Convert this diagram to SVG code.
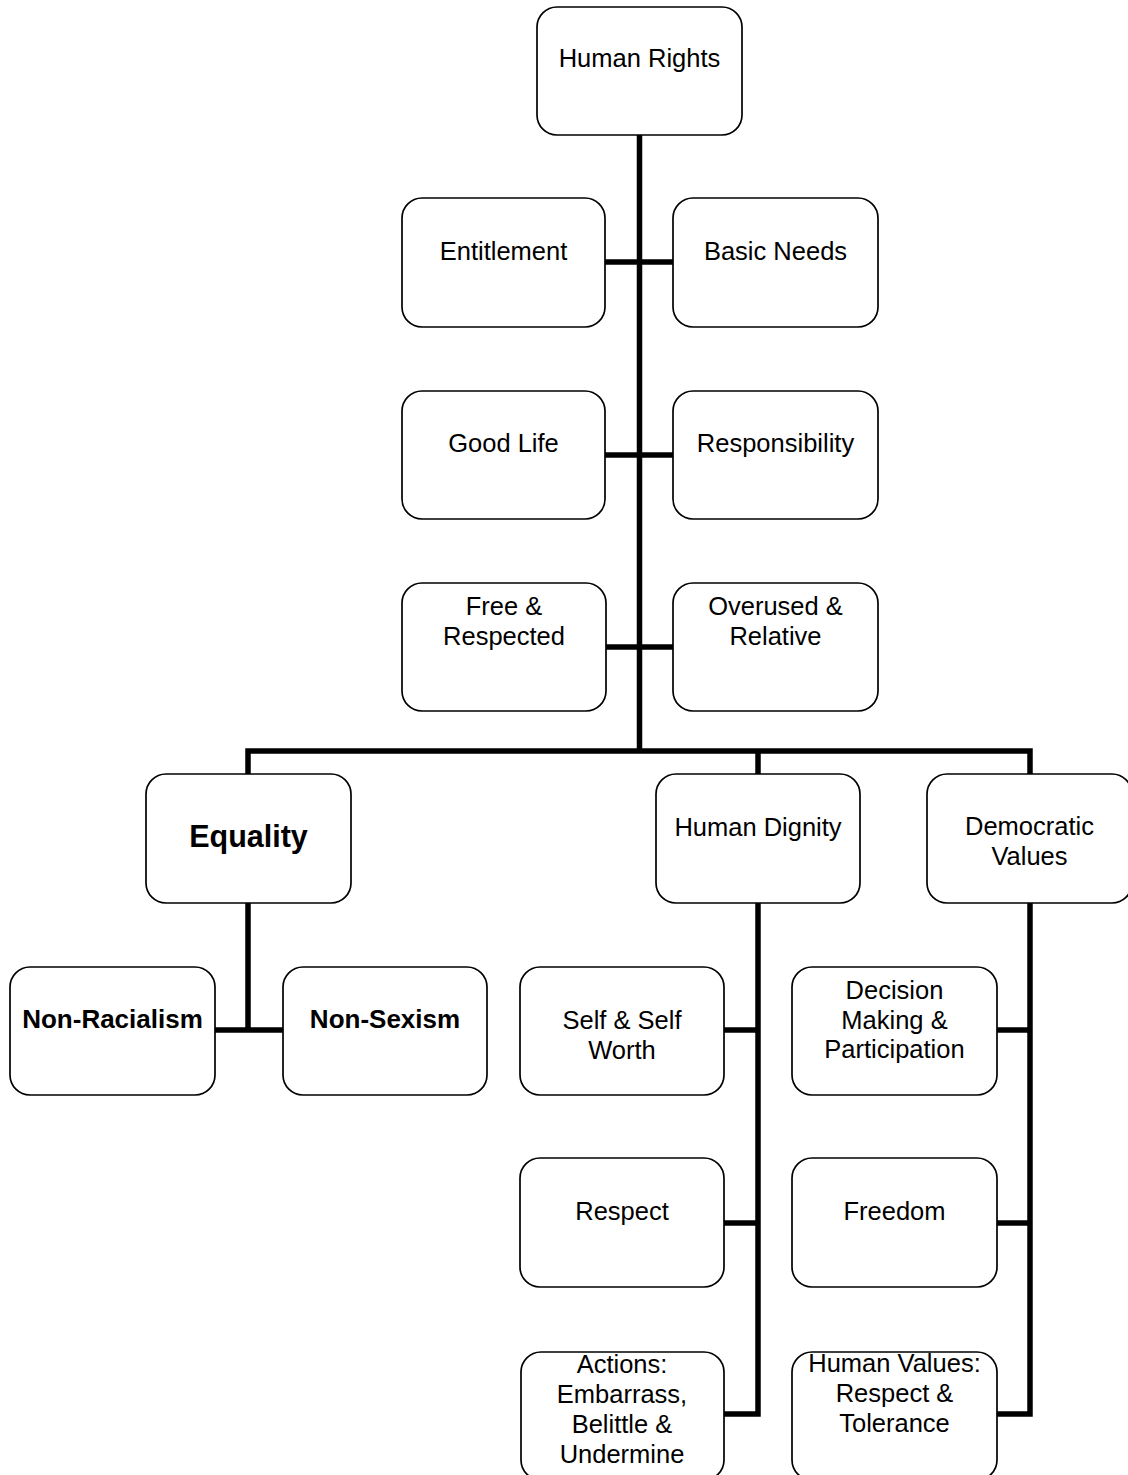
<svg xmlns="http://www.w3.org/2000/svg" width="1128" height="1475" viewBox="0 0 1128 1475">
  <style>
    .box { fill: #ffffff; stroke: #000000; stroke-width: 1.7; }
    .lbl { font-family: "Liberation Sans", Arial, sans-serif; font-size: 25.5px; fill: #000000; text-anchor: middle; }
    .bold { font-weight: bold; font-size: 26px; }
    .big { font-size: 30.5px; }
    .link { fill: none; stroke: #000000; stroke-width: 5.5; stroke-linejoin: miter; stroke-linecap: butt; }
  </style>
  <rect width="1128" height="1475" fill="#ffffff"/>

  <!-- connectors -->
  <g id="connectors">
    <!-- main trunk and top-row branches -->
    <line class="link" x1="639.5" y1="135" x2="639.5" y2="751"/>
    <line class="link" x1="605" y1="262" x2="673" y2="262"/>
    <line class="link" x1="605" y1="455" x2="673" y2="455"/>
    <line class="link" x1="606" y1="647" x2="673" y2="647"/>
    <!-- split to the three main branches -->
    <polyline class="link" points="248,774 248,751 1030,751 1030,774"/>
    <line class="link" x1="758" y1="751" x2="758" y2="774"/>
    <!-- Equality branch -->
    <line class="link" x1="248" y1="903" x2="248" y2="1030"/>
    <line class="link" x1="215" y1="1030" x2="283" y2="1030"/>
    <!-- Human Dignity branch -->
    <polyline class="link" points="758,903 758,1414 724,1414"/>
    <line class="link" x1="724" y1="1030" x2="758" y2="1030"/>
    <line class="link" x1="724" y1="1223" x2="758" y2="1223"/>
    <!-- Democratic Values branch -->
    <polyline class="link" points="1030,903 1030,1414 997,1414"/>
    <line class="link" x1="997" y1="1030" x2="1030" y2="1030"/>
    <line class="link" x1="997" y1="1223" x2="1030" y2="1223"/>
  </g>

  <!-- nodes -->
  <g id="human-rights">
    <rect class="box" x="537" y="7" width="205" height="128" rx="20"/>
    <text class="lbl" x="639.5" y="67">Human Rights</text>
  </g>

  <g id="entitlement">
    <rect class="box" x="402" y="198" width="203" height="129" rx="20"/>
    <text class="lbl" x="503.5" y="260">Entitlement</text>
  </g>
  <g id="basic-needs">
    <rect class="box" x="673" y="198" width="205" height="129" rx="20"/>
    <text class="lbl" x="775.5" y="260">Basic Needs</text>
  </g>

  <g id="good-life">
    <rect class="box" x="402" y="391" width="203" height="128" rx="20"/>
    <text class="lbl" x="503.5" y="452">Good Life</text>
  </g>
  <g id="responsibility">
    <rect class="box" x="673" y="391" width="205" height="128" rx="20"/>
    <text class="lbl" x="775.5" y="452">Responsibility</text>
  </g>

  <g id="free-respected">
    <rect class="box" x="402" y="583" width="204" height="128" rx="20"/>
    <text class="lbl" x="504" y="615">Free &amp;</text>
    <text class="lbl" x="504" y="645">Respected</text>
  </g>
  <g id="overused-relative">
    <rect class="box" x="673" y="583" width="205" height="128" rx="20"/>
    <text class="lbl" x="775.5" y="615">Overused &amp;</text>
    <text class="lbl" x="775.5" y="645">Relative</text>
  </g>

  <g id="equality">
    <rect class="box" x="146" y="774" width="205" height="129" rx="20"/>
    <text class="lbl bold big" x="248.5" y="847">Equality</text>
  </g>
  <g id="human-dignity">
    <rect class="box" x="656" y="774" width="204" height="129" rx="20"/>
    <text class="lbl" x="758" y="836">Human Dignity</text>
  </g>
  <g id="democratic-values">
    <rect class="box" x="927" y="774" width="205" height="129" rx="20"/>
    <text class="lbl" x="1029.5" y="835">Democratic</text>
    <text class="lbl" x="1029.5" y="865">Values</text>
  </g>

  <g id="non-racialism">
    <rect class="box" x="10" y="967" width="205" height="128" rx="20"/>
    <text class="lbl bold" x="112.5" y="1028">Non-Racialism</text>
  </g>
  <g id="non-sexism">
    <rect class="box" x="283" y="967" width="204" height="128" rx="20"/>
    <text class="lbl bold" x="385" y="1028">Non-Sexism</text>
  </g>

  <g id="self-worth">
    <rect class="box" x="520" y="967" width="204" height="128" rx="20"/>
    <text class="lbl" x="622" y="1029">Self &amp; Self</text>
    <text class="lbl" x="622" y="1059">Worth</text>
  </g>
  <g id="decision-making">
    <rect class="box" x="792" y="967" width="205" height="128" rx="20"/>
    <text class="lbl" x="894.5" y="999">Decision</text>
    <text class="lbl" x="894.5" y="1029">Making &amp;</text>
    <text class="lbl" x="894.5" y="1058">Participation</text>
  </g>

  <g id="respect">
    <rect class="box" x="520" y="1158" width="204" height="129" rx="20"/>
    <text class="lbl" x="622" y="1220">Respect</text>
  </g>
  <g id="freedom">
    <rect class="box" x="792" y="1158" width="205" height="129" rx="20"/>
    <text class="lbl" x="894.5" y="1220">Freedom</text>
  </g>

  <g id="actions">
    <rect class="box" x="521" y="1352" width="203" height="128" rx="20"/>
    <text class="lbl" x="622" y="1373">Actions:</text>
    <text class="lbl" x="622" y="1403">Embarrass,</text>
    <text class="lbl" x="622" y="1433">Belittle &amp;</text>
    <text class="lbl" x="622" y="1463">Undermine</text>
  </g>
  <g id="human-values">
    <rect class="box" x="792" y="1352" width="205" height="128" rx="20"/>
    <text class="lbl" x="894.5" y="1372">Human Values:</text>
    <text class="lbl" x="894.5" y="1402">Respect &amp;</text>
    <text class="lbl" x="894.5" y="1432">Tolerance</text>
  </g>
</svg>
